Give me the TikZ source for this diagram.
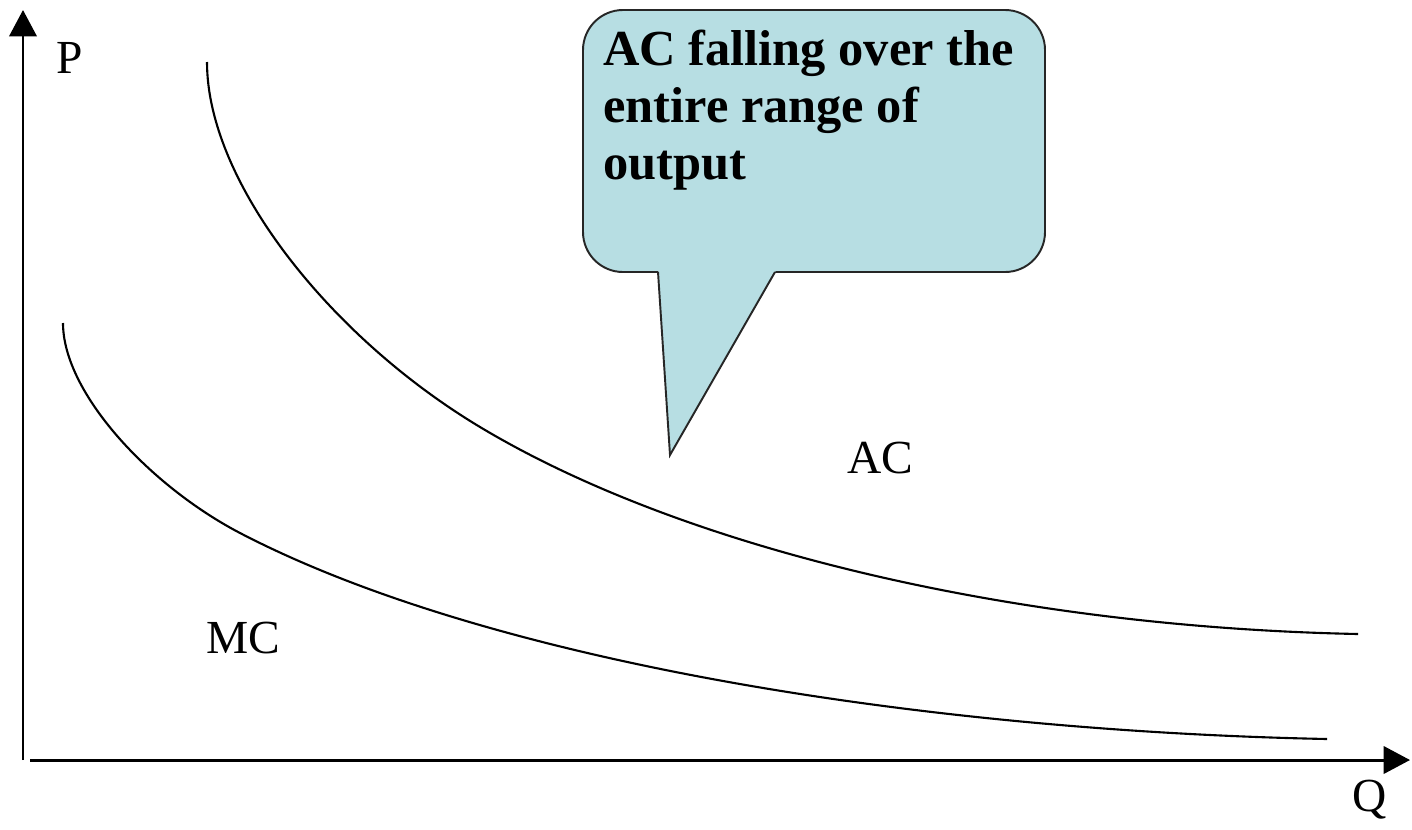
\documentclass[tikz,border=0pt]{standalone}
\usepackage{fontspec}
\setmainfont{Liberation Serif}
\usepackage{tikz}
\usetikzlibrary{arrows.meta}
\definecolor{bubblefill}{RGB}{183,222,227}

\begin{document}
\begin{tikzpicture}[x=0.02cm, y=-0.02cm, >={Triangle[length=15pt,width=15.5pt]},
  axis/.style={->, line width=1.7pt},
  curve/.style={line width=1.2pt},
  lbl/.style={font=\fontsize{27}{30}\selectfont, inner sep=0pt},
  bubble/.style={draw=black!85, line width=1.1pt, fill=bubblefill}]
  \useasboundingbox (0,0) rectangle (1412,829);

  % Define the corners of the axes
  \coordinate (O) at (23,760);
  \coordinate (ytip) at (23,10);
  \coordinate (xstart) at (30,760);
  \coordinate (xtip) at (1410,760);

  % Draw the axes
  \draw[axis] (O) -- (ytip);
  \draw[axis] (xstart) -- (xtip);
  \node[lbl] (Plbl) at (70,58) {P};
  \node[lbl] (Qlbl) at (1370,800) {Q};

  % Draw the average cost curve
  \draw[curve] (207,62) .. controls (207,182) and (330,337) .. (480,427)
    .. controls (680,547) and (1008,627) .. (1358,634);
  \node[lbl] (AClbl) at (880,458) {AC};

  % Draw the marginal cost curve
  \draw[curve] (63,323) .. controls (63,393) and (150,486) .. (240,533)
    .. controls (490,663) and (927,731) .. (1327,739);
  \node[lbl] (MClbl) at (243,638) {MC};

  % Draw the speech bubble pointing at the AC curve
  \coordinate (tip) at (670,455);
  \draw[bubble, rounded corners=0.8cm] (583,10) rectangle (1045,272);
  \fill[bubblefill] (661,266) -- (658,272) -- (tip) -- (775,272) -- (779,266) -- cycle;
  \draw[draw=black!85, line width=1.1pt] (658,272) -- (tip) -- (775,272);
  \node[anchor=north west, align=left, inner sep=0pt,
    font=\fontsize{28.7}{32.3}\selectfont\bfseries] (note) at (603,30)
    {AC falling over the\\entire range of\\output};
\end{tikzpicture}
\end{document}
